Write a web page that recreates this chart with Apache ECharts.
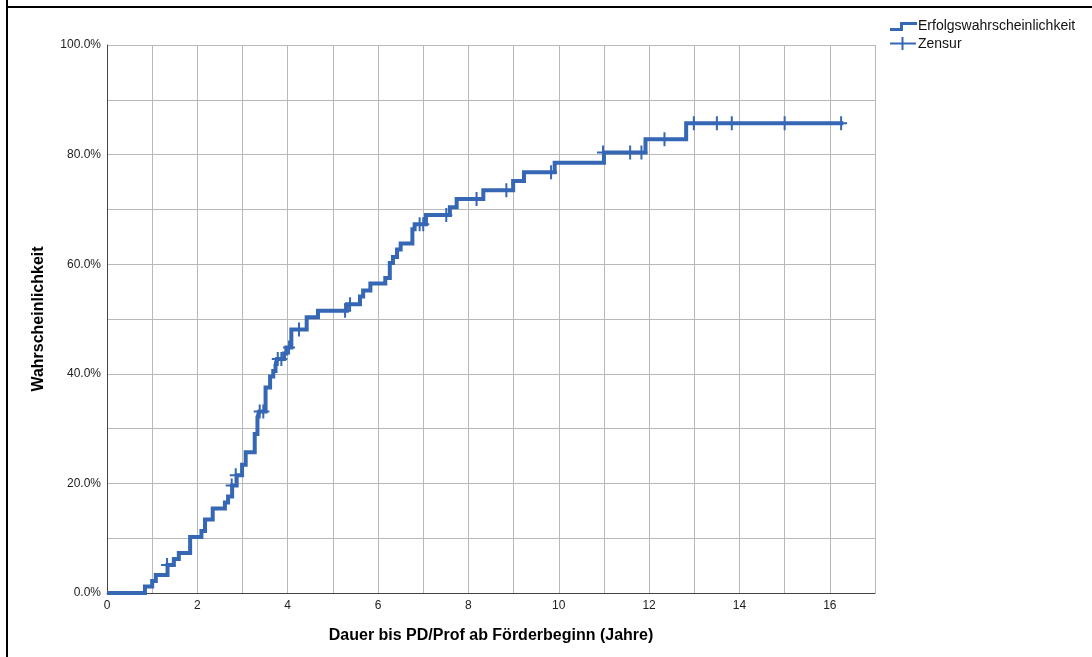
<!DOCTYPE html>
<html>
<head>
<meta charset="utf-8">
<script src="https://cdn.jsdelivr.net/npm/echarts@6/dist/echarts.min.js"></script>
<style>
html,body{margin:0;padding:0;background:#fff;}
#chart{width:1092px;height:657px;}
</style>
</head>
<body>
<div id="chart"></div>
<script>
// Step curve (time in years, cumulative probability in %)
const stepTimes = [0, 0.84, 1.0, 1.08, 1.34, 1.48, 1.59, 1.84, 2.09, 2.17, 2.34, 2.61, 2.68, 2.77, 2.87, 2.99, 3.07, 3.27, 3.33, 3.37, 3.51, 3.61, 3.68, 3.73, 3.76, 3.92, 3.97, 4.08, 4.42, 4.67, 5.31, 5.6, 5.67, 5.83, 6.16, 6.26, 6.33, 6.42, 6.5, 6.76, 6.81, 7.06, 7.59, 7.74, 8.33, 8.99, 9.23, 9.91, 11.0, 11.92, 12.82, 16.3];
const stepProbs = [0, 1.2, 2.2, 3.3, 5.1, 6.2, 7.3, 10.2, 11.3, 13.4, 15.4, 16.5, 17.6, 19.6, 21.5, 23.4, 25.7, 29.0, 32.1, 33.1, 37.5, 39.5, 40.5, 41.6, 42.7, 43.7, 44.8, 48.1, 50.3, 51.5, 52.7, 54.1, 55.2, 56.5, 57.5, 60.2, 61.3, 62.7, 63.8, 66.4, 67.3, 69.0, 70.4, 71.9, 73.5, 75.2, 76.8, 78.5, 80.4, 82.8, 85.7, 85.7];
// Censored observations
const censorTimes = [1.33, 2.76, 2.85, 3.38, 3.46, 3.78, 3.86, 4.03, 4.25, 5.27, 5.38, 6.92, 7.0, 7.51, 8.18, 8.84, 9.83, 10.98, 11.58, 11.83, 12.34, 12.99, 13.5, 13.83, 15.0, 16.25];
const censorProbs = [5.1, 19.6, 21.5, 33.1, 33.1, 42.7, 42.7, 44.8, 48.1, 51.5, 52.7, 67.3, 67.3, 69.0, 71.9, 73.5, 76.8, 80.4, 80.4, 80.4, 82.8, 85.7, 85.7, 85.7, 85.7, 85.7];
const xTitle = 'Dauer bis PD/Prof ab Förderbeginn (Jahre)';
const yTitle = 'Wahrscheinlichkeit';
const seriesNames = ['Erfolgswahrscheinlichkeit', 'Zensur'];

const blue = '#3567b5';
const font = '"Liberation Sans", Arial, sans-serif';
const plusPath = 'path://M5,0H7V6H12V8H7V14H5V8H0V6H5Z';

const chart = echarts.init(document.getElementById('chart'), null, {renderer: 'canvas'});
chart.setOption({
  animation: false,
  backgroundColor: '#fff',
  textStyle: {fontFamily: font},
  grid: {left: 107, right: 217, top: 45, bottom: 64, show: false},
  xAxis: {
    type: 'value', min: 0, max: 17, interval: 1,
    name: xTitle, nameLocation: 'middle', nameGap: 35,
    nameTextStyle: {fontFamily: font, fontSize: 16, fontWeight: 'bold', color: '#000'},
    axisLine: {show: true, onZero: false, lineStyle: {color: '#444', width: 1}},
    axisTick: {show: false},
    axisLabel: {
      margin: 7, fontSize: 12, color: '#222', fontFamily: font,
      formatter: v => (v % 2 === 0 ? String(v) : '')
    },
    splitLine: {show: true, lineStyle: {color: '#b8b8b8', width: 1}}
  },
  yAxis: {
    type: 'value', min: 0, max: 100, interval: 10,
    name: yTitle, nameLocation: 'middle', nameGap: 60, nameRotate: 90,
    nameTextStyle: {fontFamily: font, fontSize: 16, fontWeight: 'bold', color: '#000'},
    axisLine: {show: true, onZero: false, lineStyle: {color: '#444', width: 1}},
    axisTick: {show: false},
    axisLabel: {
      margin: 6, fontSize: 12, color: '#222', fontFamily: font,
      formatter: v => (v % 20 === 0 ? v.toFixed(1) + '%' : '')
    },
    splitLine: {show: true, lineStyle: {color: '#b8b8b8', width: 1}}
  },
  series: [
    {
      name: seriesNames[0], type: 'line', step: 'end', showSymbol: false, symbol: 'none',
      lineStyle: {color: blue, width: 4, join: 'miter'},
      data: stepTimes.map((t, i) => [t, stepProbs[i]]),
      z: 3
    },
    {
      name: seriesNames[1], type: 'scatter', symbol: plusPath, symbolSize: [12, 14],
      itemStyle: {color: blue, opacity: 1},
      data: censorTimes.map((t, i) => [t, censorProbs[i]]),
      z: 4
    }
  ],
  graphic: [
    {type: 'line', shape: {x1: 7, y1: 0, x2: 7, y2: 657}, style: {stroke: '#000', lineWidth: 2}},
    {type: 'line', shape: {x1: 6, y1: 7, x2: 1092, y2: 7}, style: {stroke: '#000', lineWidth: 2}},
    {type: 'polyline', shape: {points: [[890, 29.5], [901.5, 29.5], [901.5, 23.5], [917, 23.5]]}, style: {stroke: blue, lineWidth: 3, fill: null}},
    {type: 'text', left: 918, top: 19, style: {text: seriesNames[0], font: '14px ' + font, fill: '#111'}},
    {type: 'line', shape: {x1: 890, y1: 43.5, x2: 916, y2: 43.5}, style: {stroke: blue, lineWidth: 2}},
    {type: 'line', shape: {x1: 902.5, y1: 37, x2: 902.5, y2: 50}, style: {stroke: blue, lineWidth: 2}},
    {type: 'text', left: 918, top: 37, style: {text: seriesNames[1], font: '14px ' + font, fill: '#111'}}
  ]
});
</script>
</body>
</html>
